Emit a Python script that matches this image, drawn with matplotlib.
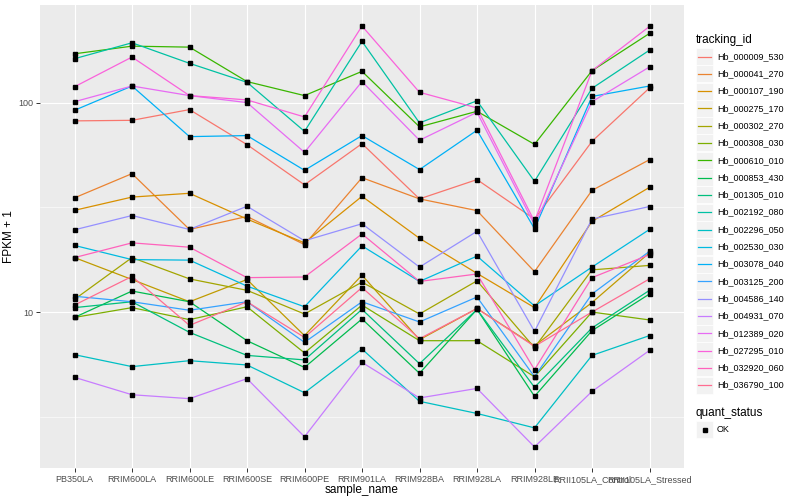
import numpy as np
import matplotlib.pyplot as plt
from matplotlib.lines import Line2D
from matplotlib.patches import Rectangle

plt.rcParams['font.family'] = ['Liberation Sans', 'DejaVu Sans']

# sample names on the x axis
samples = ['PB350LA', 'RRIM600LA', 'RRIM600LE', 'RRIM600SE', 'RRIM600PE',
           'RRIM901LA', 'RRIM928BA', 'RRIM928LA', 'RRIM928LE',
           'RRII105LA_Control', 'RRII105LA_Stressed']

tracking_ids = ['Hb_000009_530', 'Hb_000041_270', 'Hb_000107_190', 'Hb_000275_170',
                'Hb_000302_270', 'Hb_000308_030', 'Hb_000610_010', 'Hb_000853_430',
                'Hb_001305_010', 'Hb_002192_080', 'Hb_002296_050', 'Hb_002530_030',
                'Hb_003078_040', 'Hb_003125_200', 'Hb_004586_140', 'Hb_004931_070',
                'Hb_012389_020', 'Hb_027295_010', 'Hb_032920_060', 'Hb_036790_100']

# ggplot default hue palette for 20 groups
colors = ['#F8766D', '#EA8331', '#D89000', '#C09B00', '#A3A500', '#7CAE00', '#39B600',
          '#00BB4E', '#00BF7D', '#00C1A3', '#00BFC4', '#00BAE0', '#00B0F6', '#35A2FF',
          '#9590FF', '#C77CFF', '#E76BF3', '#FA62DB', '#FF62BC', '#FF6C91']

# FPKM + 1 per gene, in sample order
fpkm = [
    [81.8, 82.3, 92.6, 63.0, 40.5, 63.7, 34.7, 42.9, 27.8, 65.3, 117.5],
    [35.1, 45.8, 24.8, 28.6, 21.0, 43.8, 34.7, 30.5, 15.6, 38.1, 53.4],
    [30.6, 35.4, 36.9, 27.8, 21.4, 35.7, 22.5, 15.3, 10.5, 27.1, 39.4],
    [18.2, 14.3, 11.2, 14.3, 7.72, 15.0, 7.38, 10.4, 6.91, 11.1, 19.2],
    [11.5, 18.2, 14.4, 12.7, 9.79, 13.9, 9.79, 14.1, 6.76, 15.9, 16.7],
    [9.43, 10.5, 9.20, 10.6, 6.38, 10.8, 7.30, 7.30, 4.91, 10.0, 9.17],
    [171, 186, 184, 126, 108, 141, 76.6, 90.9, 63.2, 142, 214],
    [9.43, 12.6, 11.2, 7.30, 5.44, 9.27, 5.10, 10.3, 3.96, 8.15, 12.2],
    [10.5, 11.2, 8.00, 6.21, 5.91, 10.3, 5.67, 10.3, 4.37, 8.40, 12.7],
    [162, 193, 154, 125, 72.9, 196, 80.0, 102, 42.1, 117, 178],
    [6.26, 5.49, 5.86, 5.59, 4.12, 6.66, 3.75, 3.28, 2.80, 6.21, 7.72],
    [20.8, 17.8, 17.7, 13.3, 10.6, 20.7, 14.0, 18.5, 10.7, 16.4, 24.8],
    [91.9, 120, 68.8, 69.6, 47.5, 69.6, 47.9, 73.8, 25.0, 107, 120],
    [11.9, 11.2, 10.2, 11.2, 7.17, 11.2, 8.97, 11.8, 4.91, 12.2, 19.5],
    [24.7, 28.9, 24.8, 32.0, 21.9, 26.4, 16.4, 24.3, 8.09, 27.8, 31.9],
    [4.88, 4.03, 3.86, 4.81, 2.54, 5.75, 3.89, 4.32, 2.27, 4.18, 6.56],
    [101, 120, 108, 100, 57.9, 126, 66.1, 89.9, 26.1, 101, 148],
    [119, 165, 108, 103, 85.4, 232, 112, 94.3, 27.1, 142, 231],
    [18.2, 21.4, 20.4, 14.6, 14.7, 23.6, 14.0, 15.2, 5.31, 14.6, 18.8],
    [10.8, 14.8, 8.64, 11.2, 7.57, 13.1, 7.46, 10.4, 6.86, 10.0, 14.4],
]

W, H = 800, 500
fig = plt.figure(figsize=(8, 5), dpi=100)
ax = fig.add_axes([40 / W, 1 - 468 / H, 644 / W, 463 / H])
ax.set_facecolor('#EBEBEB')

x = np.arange(len(samples))
for vals, c in zip(fpkm, colors):
    ax.plot(x, vals, color=c, lw=0.9, zorder=2)
for vals in fpkm:
    ax.plot(x, vals, 's', color='black', ms=2.4, zorder=3, ls='none')

ax.set_yscale('log')
allv = np.log10(np.concatenate([np.array(v, float) for v in fpkm]))
lo, hi = allv.min(), allv.max()
pad = 0.05 * (hi - lo)
ax.set_ylim(10 ** (lo - pad), 10 ** (hi + pad))
ax.set_xlim(-0.6, len(samples) - 0.4)

ax.set_yticks([10, 100])
ax.set_yticklabels(['10', '100'])
ax.set_yticks([10 ** 0.5, 10 ** 1.5], minor=True)
ax.yaxis.set_minor_formatter(plt.NullFormatter())
ax.set_xticks(x)
ax.set_xticklabels(samples)

ax.grid(True, which='major', color='white', lw=0.8, zorder=0)
ax.grid(True, which='minor', axis='y', color='white', lw=0.4, zorder=0)
ax.set_axisbelow(True)
for s in ax.spines.values():
    s.set_visible(False)
ax.tick_params(which='major', length=3, width=0.7, color='#333333',
               labelsize=6.5, labelcolor='#4D4D4D', pad=2)
ax.tick_params(which='minor', length=0)

ax.set_xlabel('sample_name', fontsize=8.5, labelpad=0)
ax.set_ylabel('FPKM + 1', fontsize=8.5, labelpad=2)


# legend drawn by hand in figure pixels, ggplot style
def fx(px):
    return px / W


def fy(py):
    return 1 - py / H


fig.text(fx(696), fy(40), 'tracking_id', fontsize=8.5, va='center', ha='left')
top = 48
step = 17.3
for i, (tid, c) in enumerate(zip(tracking_ids, colors)):
    y0 = top + i * step
    fig.add_artist(Rectangle((fx(696), fy(y0 + 17)), 17 / W, 17 / H,
                             facecolor='#F2F2F2', edgecolor='white', lw=0.5,
                             transform=fig.transFigure))
    fig.add_artist(Line2D([fx(698), fx(711)], [fy(y0 + 8.5)] * 2, color=c, lw=0.9,
                          transform=fig.transFigure))
    fig.text(fx(717), fy(y0 + 8.5), tid, fontsize=6.5, va='center', ha='left')

fig.text(fx(696), fy(413), 'quant_status', fontsize=8.5, va='center', ha='left')
fig.add_artist(Rectangle((fx(696), fy(438)), 17 / W, 17 / H,
                         facecolor='#F2F2F2', edgecolor='white', lw=0.5,
                         transform=fig.transFigure))
fig.add_artist(Line2D([fx(704.5)], [fy(429.5)], marker='s', color='black', ms=2.4,
                      ls='none', transform=fig.transFigure))
fig.text(fx(717), fy(429.5), 'OK', fontsize=6.5, va='center', ha='left')

fig.savefig('out.png', dpi=100)
